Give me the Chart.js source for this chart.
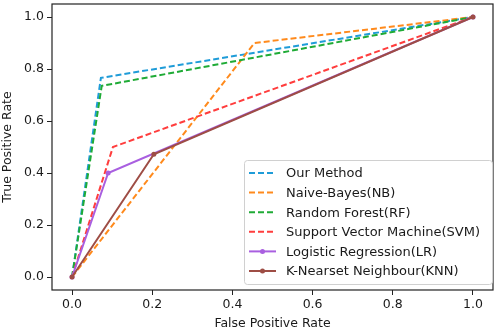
<!DOCTYPE html>
<html><head><meta charset="utf-8">
<script src="https://cdn.jsdelivr.net/npm/chart.js@4"></script>
<style>html,body{margin:0;padding:0;background:#fff}#wrap{width:498px;height:331px}</style>
</head><body><div id="wrap"><canvas id="c" width="498" height="331"></canvas></div>
<script>
const labels = ["Our Method","Naive-Bayes(NB)","Random Forest(RF)","Support Vector Machine(SVM)","Logistic Regression(LR)","K-Nearset Neighbour(KNN)"];
const fprOur = [0, 0.072, 1];   const tprOur = [0, 0.766, 1];
const fprNB  = [0, 0.455, 1];   const tprNB  = [0, 0.9, 1];
const fprRF  = [0, 0.074, 1];   const tprRF  = [0, 0.735, 1];
const fprSVM = [0, 0.102, 1];   const tprSVM = [0, 0.5, 1];
const fprLR  = [0, 0.09, 1];    const tprLR  = [0, 0.4, 1];
const fprKNN = [0, 0.204, 1];   const tprKNN = [0, 0.472, 1];
const xTicks = [0, 0.2, 0.4, 0.6, 0.8, 1.0];
const yTicks = [0, 0.2, 0.4, 0.6, 0.8, 1.0];
const colors = ['#1f9cd8','#ff8a1c','#1fab36','#ff3d3d','#a95fe0','#9e4d45'];

const series = [[fprOur,tprOur],[fprNB,tprNB],[fprRF,tprRF],[fprSVM,tprSVM],[fprLR,tprLR],[fprKNN,tprKNN]];
const datasets = series.map((s,i)=>({
  label: labels[i],
  data: s[0].map((x,j)=>({x:x,y:s[1][j]})),
  borderColor: colors[i], backgroundColor: colors[i],
  borderWidth: 2, borderDash: i<4 ? [6,3] : [],
  pointRadius: i<4 ? 0 : 2.5, pointBorderWidth: 0,
  fill:false, tension:0, order: 6-i
}));

const FONT = '"DejaVu Sans", sans-serif';
const frame = {
  id:'frame',
  afterDatasetsDraw(chart){
    const {ctx, chartArea:a} = chart;
    ctx.save(); ctx.strokeStyle='#222'; ctx.lineWidth=1.2;
    ctx.strokeRect(a.left, a.top, a.right-a.left, a.bottom-a.top);
    // legend
    const bx=244, by=160, bw=248, bh=124;
    ctx.fillStyle='rgba(255,255,255,0.85)'; ctx.strokeStyle='#d0d0d0'; ctx.lineWidth=1;
    ctx.beginPath(); if(ctx.roundRect){ctx.roundRect(bx+0.5,by+0.5,bw,bh,3);}else{ctx.rect(bx+0.5,by+0.5,bw,bh);} ctx.fill(); ctx.stroke();
    ctx.font='13px '+FONT; ctx.textBaseline='middle'; ctx.fillStyle='#1a1a1a';
    chart.data.datasets.forEach((d,i)=>{
      const y = by+13+i*19.6;
      ctx.strokeStyle=d.borderColor; ctx.lineWidth=2; ctx.setLineDash(d.borderDash.length?[6,3]:[]);
      ctx.beginPath(); ctx.moveTo(249,y); ctx.lineTo(276,y); ctx.stroke(); ctx.setLineDash([]);
      if(d.pointRadius>0){ctx.fillStyle=d.borderColor; ctx.beginPath(); ctx.arc(262.5,y,2.5,0,Math.PI*2); ctx.fill();}
      ctx.fillStyle='#1a1a1a'; ctx.fillText(d.label, 286, y+1);
    });
    ctx.restore();
  }
};

new Chart(document.getElementById('c'), {
  type:'line',
  data:{datasets},
  options:{
    responsive:false, animation:false, devicePixelRatio:1,
    layout:{padding:{top:2,right:5,left:0,bottom:0}},
    plugins:{legend:{display:false}, tooltip:{enabled:false}},
    scales:{
      x:{type:'linear', min:-0.05, max:1.05,
        afterBuildTicks(s){s.ticks = xTicks.map(v=>({value:v}));},
        afterFit(s){s.height=41; s.paddingLeft=0; s.paddingRight=0;},
        grid:{display:true, drawOnChartArea:false, drawTicks:true, tickLength:5, color:'#222'},
        border:{display:false},
        ticks:{color:'#1a1a1a', font:{family:FONT,size:12.5}, padding:2, maxRotation:0, callback:v=>v.toFixed(1)},
        title:{display:true, text:'False Positive Rate', color:'#1a1a1a', font:{family:FONT,size:12.5}, padding:{top:0,bottom:0}}
      },
      y:{type:'linear', min:-0.05, max:1.05,
        afterBuildTicks(s){s.ticks = yTicks.map(v=>({value:v}));},
        afterFit(s){s.width=52; s.paddingTop=0; s.paddingBottom=0;},
        grid:{display:true, drawOnChartArea:false, drawTicks:true, tickLength:5, color:'#222'},
        border:{display:false},
        ticks:{color:'#1a1a1a', font:{family:FONT,size:12.5}, padding:3, callback:v=>v.toFixed(1)},
        title:{display:true, text:'True Positive Rate', color:'#1a1a1a', font:{family:FONT,size:12.5}, padding:{top:0,bottom:2}}
      }
    }
  },
  plugins:[frame]
});
</script></body></html>
